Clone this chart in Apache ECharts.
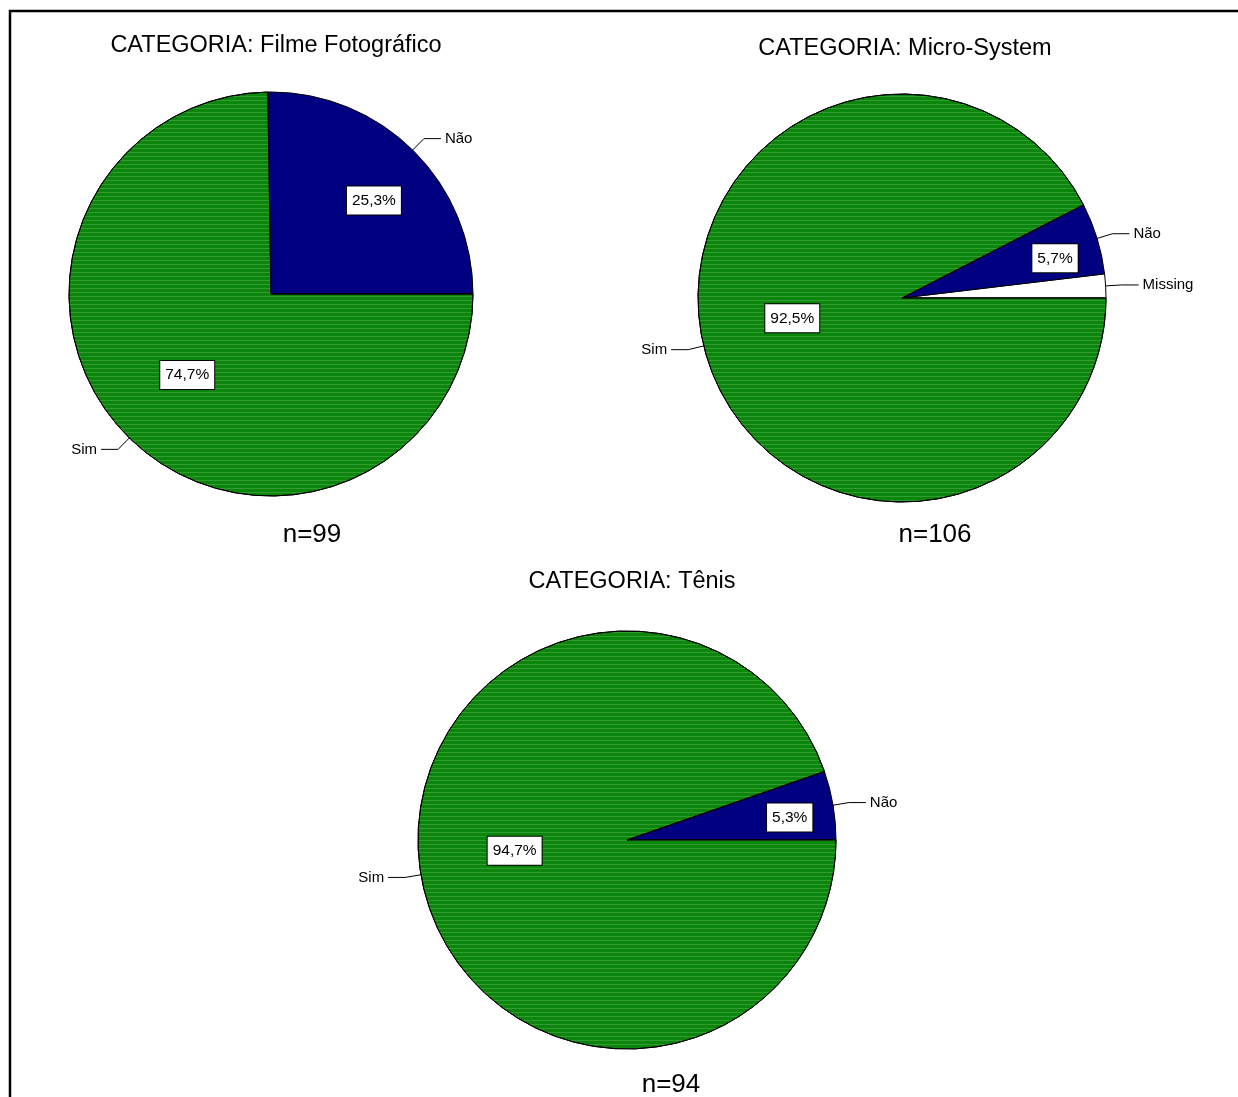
<!DOCTYPE html>
<html>
<head>
<meta charset="utf-8">
<title>CATEGORIA</title>
<script src="https://cdn.jsdelivr.net/npm/echarts@6/dist/echarts.min.js"></script>
<style>
  html, body { margin: 0; padding: 0; background: #fff; }
  #chart { width: 1238px; height: 1097px; }
</style>
</head>
<body>
<div id="chart"></div>
<script>
// Answer counts per category (order = drawing order, counter-clockwise from 3 o'clock)
const categories = ['Filme Fotográfico', 'Micro-System', 'Tênis'];
const sampleSizes = [99, 106, 94];

const filmeNames = ['Não', 'Sim'];
const filmeValues = [25, 74];

const microNames = ['Missing', 'Não', 'Sim'];
const microValues = [2, 6, 98];

const tenisNames = ['Não', 'Sim'];
const tenisValues = [5, 89];

const FONT = '"Liberation Sans", Arial, sans-serif';
const GREEN = '#0b850b';
const NAVY = '#000080';

// striped fill that mimics the hatched rendering
const greenDecal = {
  symbol: 'rect', symbolSize: 1,
  dashArrayX: [1, 0], dashArrayY: [1, 3],
  color: 'rgba(120,200,120,0.35)', rotation: 0
};

function colorFor(name) {
  if (name === 'Sim') return GREEN;
  if (name === 'Não') return NAVY;
  return '#ffffff';
}

function pct(value, n) {
  return (value / n * 100).toFixed(1).replace('.', ',') + '%';
}

// layout of each pie: centre, radius, ring radius and nudge of the percentage boxes
const pies = [
  { names: filmeNames, values: filmeValues, n: sampleSizes[0], center: [271, 294], r: 202,
    labelR: { 'Não': 138, 'Sim': 115 }, shift: { 'Não': [4, 7], 'Sim': [-1, -3] } },
  { names: microNames, values: microValues, n: sampleSizes[1], center: [902, 298], r: 204,
    labelR: { 'Não': 157, 'Sim': 113 }, shift: { 'Não': [0, 7], 'Sim': [3, -7] } },
  { names: tenisNames, values: tenisValues, n: sampleSizes[2], center: [627, 840], r: 209,
    labelR: { 'Não': 162, 'Sim': 115 }, shift: { 'Não': [0, 5], 'Sim': [4, -9] } }
];

const series = [];
pies.forEach(function (p) {
  series.push({
    type: 'pie',
    center: p.center,
    radius: [0, p.r],
    startAngle: 0,
    clockwise: false,
    avoidLabelOverlap: false,
    animation: false,
    emphasis: { disabled: true },
    itemStyle: { borderColor: '#000', borderWidth: 1 },
    label: {
      show: true, position: 'outside', formatter: '{b}',
      fontFamily: FONT, fontSize: 15, color: '#000', distanceToLabelLine: 4
    },
    labelLine: { show: true, length: 16, length2: 17, smooth: false,
      lineStyle: { color: '#000', width: 1 } },
    data: p.names.map(function (name, i) {
      const item = { name: name, value: p.values[i], itemStyle: { color: colorFor(name) } };
      if (name === 'Sim') item.itemStyle.decal = greenDecal;
      return item;
    })
  });
  // thin invisible rings used to place the percentage boxes
  const radii = [];
  p.names.forEach(function (name) {
    const rl = p.labelR[name];
    if (rl && radii.indexOf(rl) < 0) radii.push(rl);
  });
  radii.forEach(function (rl) {
    series.push({
      type: 'pie',
      center: p.center,
      radius: [rl - 1, rl + 1],
      startAngle: 0,
      clockwise: false,
      silent: true,
      animation: false,
      avoidLabelOverlap: false,
      z: 5,
      itemStyle: { color: 'rgba(0,0,0,0)', borderWidth: 0 },
      labelLine: { show: false },
      label: {
        position: 'inside',
        fontFamily: FONT, fontSize: 15.5, color: '#000', lineHeight: 16,
        backgroundColor: '#fff', borderColor: '#000', borderWidth: 1,
        padding: [7, 5, 5, 5]
      },
      labelLayout: function (params) {
        const s = p.shift[p.names[params.dataIndex]] || [0, 0];
        return { dx: s[0], dy: s[1] };
      },
      data: p.names.map(function (name, i) {
        return {
          name: name, value: p.values[i],
          label: { show: p.labelR[name] === rl, formatter: pct(p.values[i], p.n) }
        };
      })
    });
  });
});

const titleStyle = { fontFamily: FONT, fontSize: 23.5, fill: '#000', textAlign: 'center', textVerticalAlign: 'middle' };
const nStyle = { fontFamily: FONT, fontSize: 26, fill: '#000', textAlign: 'center', textVerticalAlign: 'middle' };
const titlePos = [[276, 46], [905, 49], [632, 582]];
const nPos = [[312, 535], [935, 535], [671, 1085]];

const graphic = [
  { type: 'rect', shape: { x: 10, y: 11, width: 1260, height: 1120 },
    style: { fill: 'none', stroke: '#000', lineWidth: 2.5 }, silent: true }
];
categories.forEach(function (c, i) {
  graphic.push({ type: 'text', x: titlePos[i][0], y: titlePos[i][1],
    style: Object.assign({ text: 'CATEGORIA: ' + c }, titleStyle) });
  graphic.push({ type: 'text', x: nPos[i][0], y: nPos[i][1],
    style: Object.assign({ text: 'n=' + sampleSizes[i] }, nStyle) });
});

const chart = echarts.init(document.getElementById('chart'), null, { renderer: 'canvas' });
chart.setOption({
  backgroundColor: '#fff',
  animation: false,
  graphic: graphic,
  series: series
});
</script>
</body>
</html>
